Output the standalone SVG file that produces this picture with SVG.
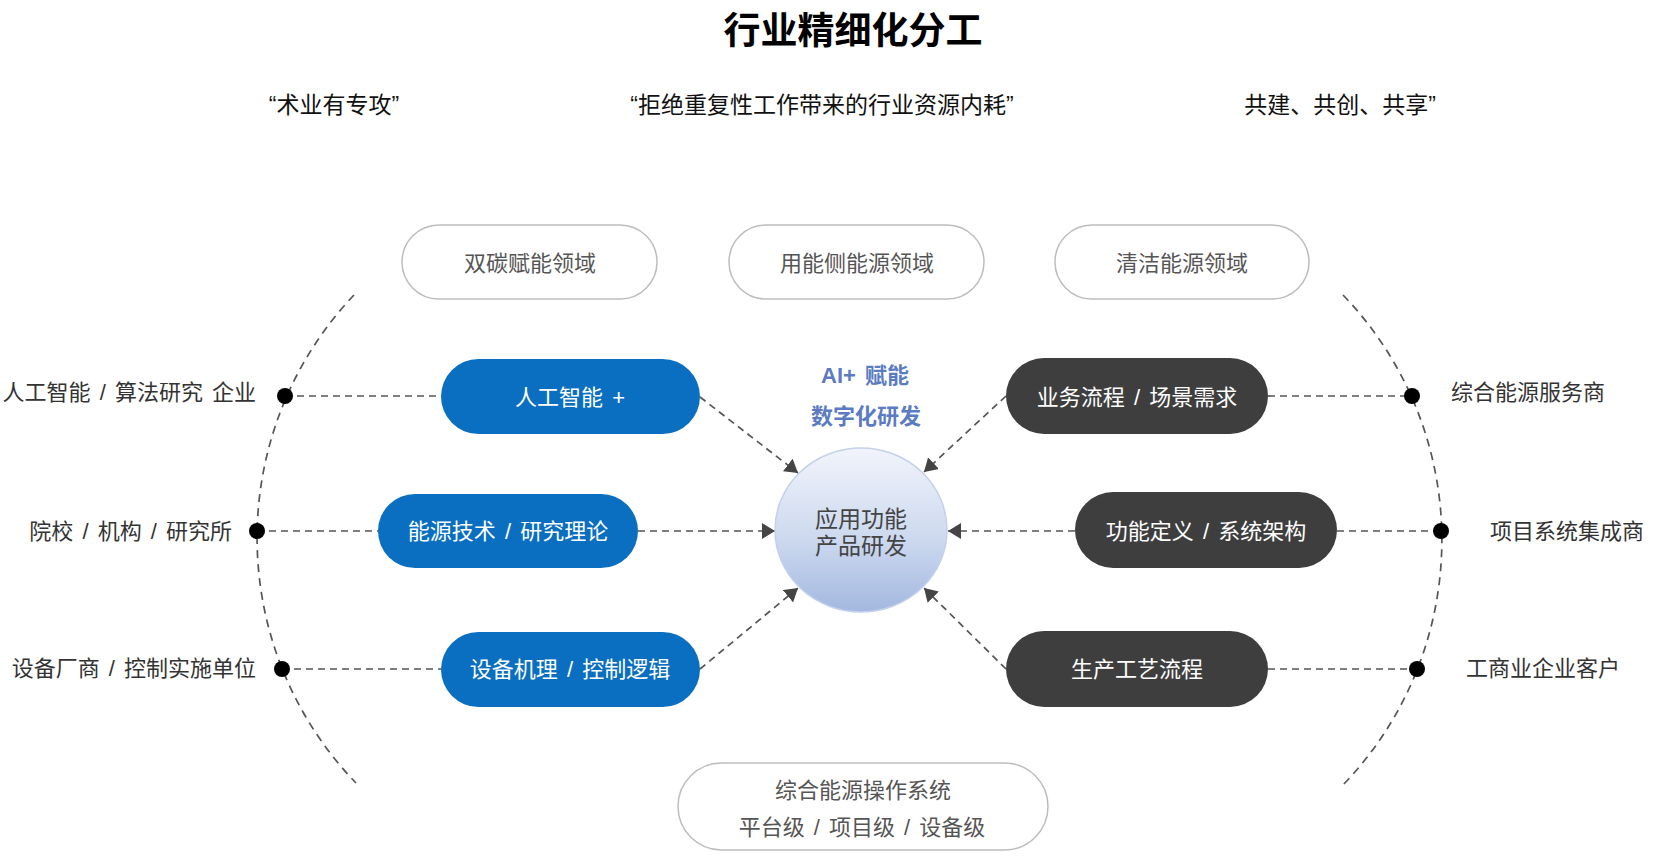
<svg xmlns="http://www.w3.org/2000/svg" width="1659" height="858" viewBox="0 0 1659 858">
<defs>
<linearGradient id="cg" x1="0" y1="0" x2="0" y2="1">
<stop offset="0" stop-color="#f1f4fb"/>
<stop offset="0.55" stop-color="#cdd9ef"/>
<stop offset="1" stop-color="#a3b8e0"/>
</linearGradient>
<marker id="ah" markerUnits="userSpaceOnUse" markerWidth="14" markerHeight="16" refX="13" refY="8" orient="auto">
<path d="M0,0 L13,8 L0,16 z" fill="#444"/>
</marker>
<style>
text{font-family:"Liberation Sans","Noto Sans CJK SC",sans-serif;word-spacing:3px}
.title{font-size:37px;font-weight:bold;fill:#000}
.sub{font-size:23px;fill:#111}
.lbl{font-size:22px;fill:#333}
.pt{font-size:22px;fill:#555;text-anchor:middle}
.wt{font-size:22px;fill:#fff;text-anchor:middle}
.ot{fill:#fff;stroke:#bdbdbd;stroke-width:1.5}
.bp{fill:#0a6fc1}
.dp{fill:#3e3e3e}
.dl{fill:none;stroke:#555;stroke-width:1.7;stroke-dasharray:7 5}
.arc{fill:none;stroke:#555;stroke-width:1.7;stroke-dasharray:8 6}
.dot{fill:#000}
.ai{font-size:22px;font-weight:bold;fill:#5b7cc2;text-anchor:middle}
.ct{font-size:23px;fill:#444;text-anchor:middle}
</style>
</defs>
<rect width="1659" height="858" fill="#fff"/>

<g id="headings">
<text class="title" x="853" y="44" text-anchor="middle">行业精细化分工</text>
<text class="sub" x="334" y="113" text-anchor="middle">“术业有专攻”</text>
<text class="sub" x="822" y="113" text-anchor="middle">“拒绝重复性工作带来的行业资源内耗”</text>
<text class="sub" x="1340" y="113" text-anchor="middle">共建、共创、共享”</text>
</g>

<g id="connectors">
<path class="arc" d="M354,295 A353,353 0 0 0 356,783"/>
<path class="arc" d="M1343,295 A353,353 0 0 1 1343,785"/>
<line class="dl" x1="285" y1="396" x2="441" y2="396"/>
<line class="dl" x1="257" y1="531" x2="378" y2="531"/>
<line class="dl" x1="282" y1="669" x2="441" y2="669"/>
<line class="dl" x1="1268" y1="396" x2="1412" y2="396"/>
<line class="dl" x1="1337" y1="531" x2="1441" y2="531"/>
<line class="dl" x1="1268" y1="669" x2="1417" y2="669"/>
<line class="dl" x1="700" y1="397" x2="798" y2="473" marker-end="url(#ah)"/>
<line class="dl" x1="638" y1="531" x2="775" y2="531" marker-end="url(#ah)"/>
<line class="dl" x1="700" y1="669" x2="798" y2="588" marker-end="url(#ah)"/>
<line class="dl" x1="1006" y1="396" x2="924" y2="472" marker-end="url(#ah)"/>
<line class="dl" x1="1075" y1="531" x2="948" y2="531" marker-end="url(#ah)"/>
<line class="dl" x1="1006" y1="669" x2="924" y2="588" marker-end="url(#ah)"/>
</g>

<g id="dots">
<circle class="dot" cx="285" cy="396" r="8"/>
<circle class="dot" cx="257" cy="531" r="8"/>
<circle class="dot" cx="282" cy="669" r="8"/>
<circle class="dot" cx="1412" cy="396" r="8"/>
<circle class="dot" cx="1441" cy="531" r="8"/>
<circle class="dot" cx="1417" cy="669" r="8"/>
</g>

<g id="label-left-1"><text class="lbl" x="256" y="400" text-anchor="end">人工智能 / 算法研究 企业</text></g>
<g id="label-left-2"><text class="lbl" x="232" y="539" text-anchor="end">院校 / 机构 / 研究所</text></g>
<g id="label-left-3"><text class="lbl" x="256" y="676" text-anchor="end">设备厂商 / 控制实施单位</text></g>
<g id="label-right-1"><text class="lbl" x="1451" y="400">综合能源服务商</text></g>
<g id="label-right-2"><text class="lbl" x="1490" y="539">项目系统集成商</text></g>
<g id="label-right-3"><text class="lbl" x="1466" y="676">工商业企业客户</text></g>

<g id="domain-1"><rect class="ot" x="402" y="225" width="255" height="74" rx="37"/><text class="pt" x="530" y="271">双碳赋能领域</text></g>
<g id="domain-2"><rect class="ot" x="729" y="225" width="255" height="74" rx="37"/><text class="pt" x="857" y="271">用能侧能源领域</text></g>
<g id="domain-3"><rect class="ot" x="1055" y="225" width="254" height="74" rx="37"/><text class="pt" x="1182" y="271">清洁能源领域</text></g>

<g id="blue-1"><rect class="bp" x="441" y="359" width="259" height="75" rx="37.5"/><text class="wt" x="570" y="405">人工智能 +</text></g>
<g id="blue-2"><rect class="bp" x="378" y="494" width="260" height="74" rx="37"/><text class="wt" x="508" y="539">能源技术 / 研究理论</text></g>
<g id="blue-3"><rect class="bp" x="441" y="632" width="259" height="75" rx="37.5"/><text class="wt" x="570" y="677">设备机理 / 控制逻辑</text></g>

<g id="dark-1"><rect class="dp" x="1006" y="358" width="262" height="76" rx="38"/><text class="wt" x="1137" y="405">业务流程 / 场景需求</text></g>
<g id="dark-2"><rect class="dp" x="1075" y="492" width="262" height="76" rx="38"/><text class="wt" x="1206" y="539">功能定义 / 系统架构</text></g>
<g id="dark-3"><rect class="dp" x="1006" y="631" width="262" height="76" rx="38"/><text class="wt" x="1137" y="677">生产工艺流程</text></g>

<g id="ai-label">
<text class="ai" x="865" y="383">AI+ 赋能</text>
<text class="ai" x="866" y="424">数字化研发</text>
</g>

<g id="center">
<ellipse cx="861" cy="530" rx="86" ry="82" fill="url(#cg)" stroke="#c3d1ea" stroke-width="1.5"/>
<text class="ct" x="861" y="527">应用功能</text>
<text class="ct" x="861" y="554">产品研发</text>
</g>

<g id="os">
<rect class="ot" x="678" y="763" width="370" height="87" rx="43.5"/>
<text class="pt" x="863" y="798">综合能源操作系统</text>
<text class="pt" x="862" y="835">平台级 / 项目级 / 设备级</text>
</g>
</svg>
